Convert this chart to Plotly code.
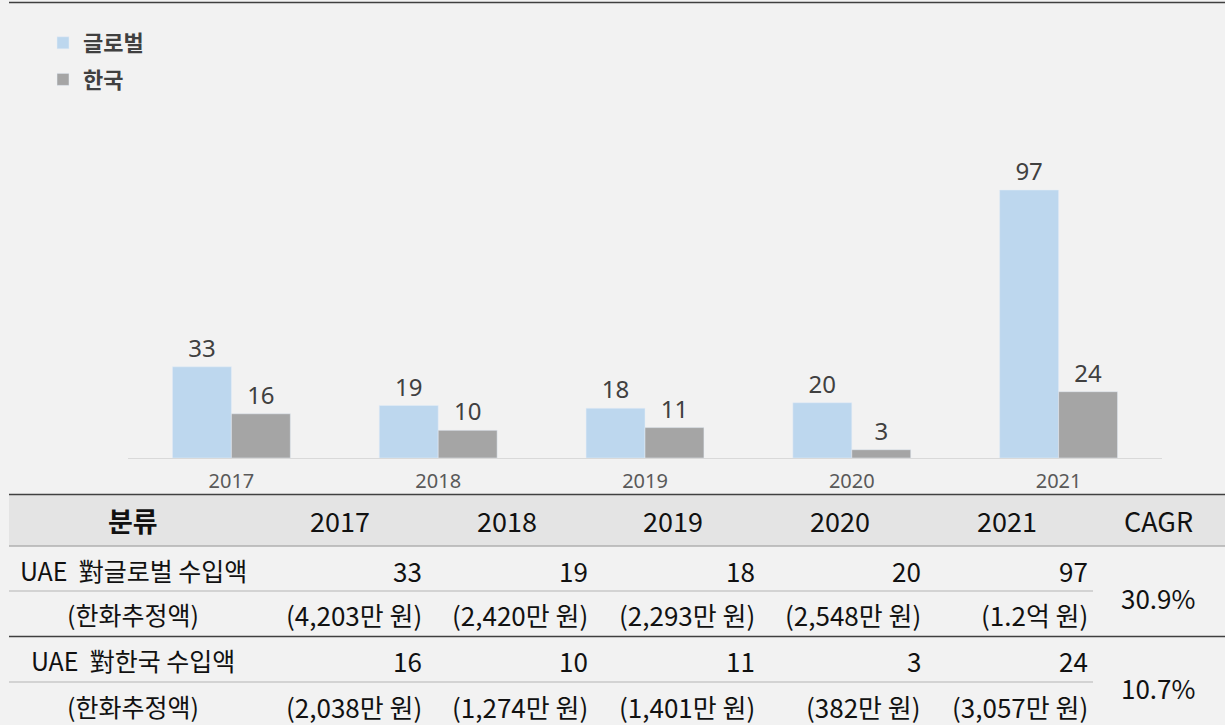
import plotly.graph_objects as go

years = ["2017", "2018", "2019", "2020", "2021"]
global_vals = [33, 19, 18, 20, 97]
korea_vals = [16, 10, 11, 3, 24]
series_names = ["글로벌", "한국"]

table_header = ["분류", "2017", "2018", "2019", "2020", "2021", "CAGR"]
row_labels = ["UAE  對글로벌 수입액", "(한화추정액)", "UAE  對한국 수입액", "(한화추정액)"]
global_krw = ["(4,203만 원)", "(2,420만 원)", "(2,293만 원)", "(2,548만 원)", "(1.2억 원)"]
korea_krw = ["(2,038만 원)", "(1,274만 원)", "(1,401만 원)", "(382만 원)", "(3,057만 원)"]
cagr = ["30.9%", "10.7%"]

W, H = 1225, 725
BG = "#f2f2f2"
BLUE = "#bdd7ee"
GRAY = "#a5a5a5"
KFONT = "Noto Sans CJK KR"


def px(x):
    return x / W


def py(y):
    return 1 - y / H


fig = go.Figure()
fig.add_trace(go.Bar(
    x=years, y=global_vals, name=series_names[0], marker_color=BLUE,
    text=global_vals, textposition="outside", cliponaxis=False,
    textfont=dict(size=24, color="#404040", family="Noto Sans"),
    legendgroup="g1",
))
fig.add_trace(go.Bar(
    x=years, y=korea_vals, name=series_names[1], marker_color=GRAY,
    text=korea_vals, textposition="outside", cliponaxis=False,
    textfont=dict(size=24, color="#404040", family="Noto Sans"),
    legendgroup="g2",
))

plot_top, plot_bot = 150, 458
scale = (458 - 190) / 97.0
ymax = (plot_bot - plot_top) / scale

annotations = []
shapes = []

# header background
shapes.append(dict(type="rect", xref="paper", yref="paper", x0=px(9), x1=1,
                   y0=py(546), y1=py(495), fillcolor="#e4e4e4", line_width=0, layer="below"))


def hline(y, x0, x1, color, width):
    shapes.append(dict(type="line", xref="paper", yref="paper", x0=px(x0), x1=px(x1),
                       y0=py(y), y1=py(y), line=dict(color=color, width=width)))


hline(2.5, 9, W, "#404040", 1.5)
hline(494.5, 9, W, "#404040", 1.5)
hline(546, 9, W, "#b0b0b0", 1.5)
hline(591, 9, 1093, "#c8c8c8", 1.5)
hline(636.5, 9, W, "#404040", 1.5)
hline(682, 9, 1093, "#c8c8c8", 1.5)

header_x = [133, 340, 507, 673, 840, 1007, 1158]
for i, t in enumerate(table_header):
    txt = "<b>" + t + "</b>" if i == 0 else t
    annotations.append(dict(text=txt, x=px(header_x[i]), y=py(520), xref="paper", yref="paper",
                            showarrow=False, xanchor="center", yanchor="middle",
                            font=dict(family=KFONT, size=27, color="#111111")))

row_y = [570, 614, 660, 706]
for i, t in enumerate(row_labels):
    annotations.append(dict(text=t, x=px(133), y=py(row_y[i]), xref="paper", yref="paper",
                            showarrow=False, xanchor="center", yanchor="middle",
                            font=dict(family=KFONT, size=25, color="#111111")))

right_x = [422, 588, 755, 921, 1088]
rows = [[str(v) for v in global_vals], global_krw, [str(v) for v in korea_vals], korea_krw]
for r, vals in enumerate(rows):
    for c, t in enumerate(vals):
        annotations.append(dict(text=t, x=px(right_x[c] + 2), y=py(row_y[r]), xref="paper", yref="paper",
                                showarrow=False, xanchor="right", yanchor="middle",
                                font=dict(family=KFONT, size=26, color="#111111")))

for i, t in enumerate(cagr):
    annotations.append(dict(text=t, x=px(1158), y=py([597, 687][i]), xref="paper", yref="paper",
                            showarrow=False, xanchor="center", yanchor="middle",
                            font=dict(family=KFONT, size=26, color="#111111")))

fig.update_layout(
    width=W, height=H,
    margin=dict(l=0, r=0, t=0, b=0),
    paper_bgcolor=BG, plot_bgcolor=BG,
    barmode="group", bargap=0.43, bargroupgap=0,
    showlegend=True,
    legend=dict(x=px(43), y=py(22), xanchor="left", yanchor="top",
                font=dict(family=KFONT, size=22, color="#404040", weight="bold"),
                bgcolor="rgba(0,0,0,0)", tracegroupgap=5, itemwidth=30,
                traceorder="grouped"),
    xaxis=dict(domain=[px(128), px(1162)], showline=True, linecolor="#d9d9d9", linewidth=1,
               ticks="", showgrid=False, zeroline=False, ticklabelstandoff=5,
               tickfont=dict(family="Noto Sans", size=20, color="#595959")),
    yaxis=dict(domain=[py(plot_bot), py(plot_top)], range=[0, ymax], visible=False,
               showgrid=False, zeroline=False),
    annotations=annotations,
    shapes=shapes,
    font=dict(family=KFONT),
)

fig.write_html(
    "out.html",
    config={"displayModeBar": False},
    post_script="document.body.style.margin='0';document.body.style.padding='0';"
                "document.body.style.background='#f2f2f2';"
                "document.documentElement.style.background='#f2f2f2';",
)
